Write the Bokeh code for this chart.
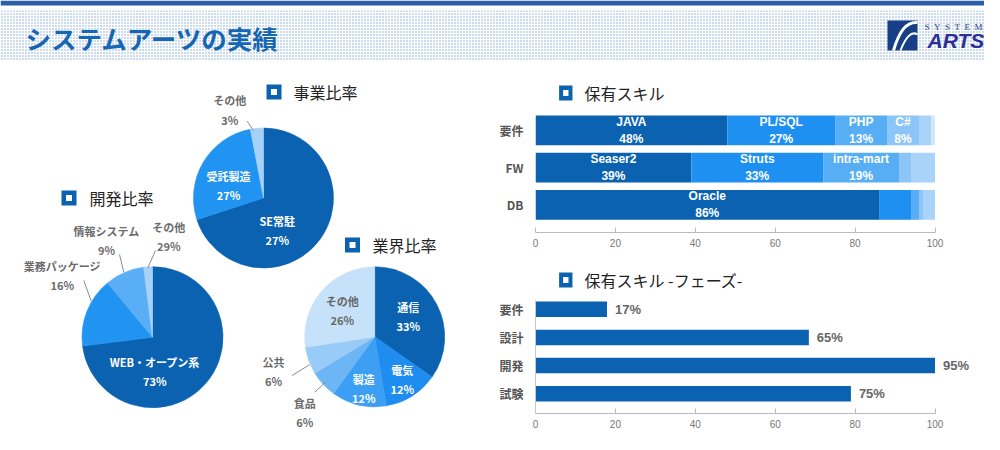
import numpy as np
from bokeh.plotting import figure
from bokeh.models import Range1d, FixedTicker
from bokeh.layouts import column, row
from bokeh.core.properties import value
from bokeh.embed import file_html
from bokeh.resources import INLINE

# ---------------- data ----------------
title_text = "システムアーツの実績"

biz_labels = ["SE常駐", "受託製造", "その他"]
biz_values = [70, 27, 3]
biz_pct_text = ["27%", "27%", "3%"]          # as printed on the chart

dev_labels = ["WEB・オープン系", "業務パッケージ", "情報システム", "その他"]
dev_values = [73, 16, 9, 2]
dev_pct_text = ["73%", "16%", "9%", "29%"]   # as printed on the chart

ind_labels = ["通信", "電気", "製造", "食品", "公共", "その他"]
ind_values = [33, 12, 12, 6, 6, 26]

skill_cats = ["要件", "FW", "DB"]
skill_s1 = [48, 39, 86]
skill_s2 = [27, 33, 8]
skill_s3 = [13, 19, 2]
skill_s4 = [8, 3, 1]
skill_s5 = [3, 6, 3]
skill_s6 = [1, 0, 0]
skill_names = [["JAVA", "PL/SQL", "PHP", "C#"], ["Seaser2", "Struts", "intra-mart"], ["Oracle"]]

phase_cats = ["要件", "設計", "開発", "試験"]
phase_values = [17, 65, 95, 75]

x_ticks = [0, 20, 40, 60, 80, 100]

# ---------------- style ----------------
JP = value("Noto Sans CJK JP")
LAT = value("Liberation Sans")
DARK = "#0A62B0"
BAND = "#2C5FA9"
GRAY = "#6B6B6B"
SEG_COLORS = ["#0A62B0", "#1E90F2", "#58AEF5", "#8CC5F7", "#A9D3F9", "#D3E8FB"]
BIZ_COLORS = ["#0A62B0", "#2194F2", "#A6D1F8"]
DEV_COLORS = ["#0A62B0", "#2194F2", "#5AAEF5", "#A6D1F8"]
IND_COLORS = ["#0A62B0", "#1E8DEF", "#3C9FF3", "#6DB6F5", "#98CBF7", "#C6E2FA"]


def Y(y):
    return 450 - y


def canvas(w, h, x0, y0):
    p = figure(width=w, height=h, x_range=Range1d(x0, x0 + w),
               y_range=Range1d(450 - (y0 + h), 450 - y0),
               output_backend="svg", toolbar_location=None,
               x_axis_location=None, y_axis_location=None,
               min_border=0, outline_line_color=None,
               background_fill_color="white", border_fill_color="white")
    p.xgrid.visible = False
    p.ygrid.visible = False
    return p


def section(p, cx, cy, text, tx):
    p.rect(x=[cx], y=[Y(cy)], width=15, height=15, fill_color=DARK, line_color=None)
    p.rect(x=[cx], y=[Y(cy)], width=6, height=6, fill_color="white", line_color=None)
    p.text(x=[tx], y=[Y(cy)], text=[text], text_font=JP, text_font_size="16px",
           text_color="#222222", text_baseline="middle", text_align="left")


def pie(p, cx, cy, r, values, colors):
    v = np.asarray(values, dtype=float)
    frac = v / v.sum()
    cum = np.concatenate([[0.0], np.cumsum(frac)])
    start = np.pi / 2 - 2 * np.pi * cum[1:]
    end = np.pi / 2 - 2 * np.pi * cum[:-1]
    p.wedge(x=cx, y=Y(cy), radius=r, start_angle=list(start), end_angle=list(end),
            fill_color=colors, line_color=colors, line_width=0.6)


def pie_labels(p, texts, pos, colors):
    for t, (x, y), c in zip(texts, pos, colors):
        p.text(x=[x], y=[Y(y)], text=[t], text_font=JP, text_font_size="11px",
               text_font_style="bold", text_color=c,
               text_align="center", text_baseline="middle", text_line_height=1.2)


W, G = "white", GRAY

# ---------------- header ----------------
head = canvas(984, 62, 0, 0)
head.quad(left=[0], right=[984], bottom=[Y(5)], top=[Y(0)], fill_color=BAND, line_color=None)
head.quad(left=[0], right=[984], bottom=[Y(60)], top=[Y(10)], fill_color="white",
          hatch_pattern="dot", hatch_color="#7FA6D8", hatch_scale=3, hatch_weight=1,
          line_color=None)
head.text(x=[25], y=[Y(37)], text=[title_text], text_font=JP, text_font_size="25.5px",
          text_font_style="bold", text_color="#1766B3", text_baseline="middle")
# logo
head.quad(left=[887], right=[917], top=[Y(20)], bottom=[Y(50)], fill_color="#163F88", line_color=None)
head.bezier(x0=[893], y0=[Y(50)], x1=[917], y1=[Y(22)], cx0=[899], cy0=[Y(30)],
            cx1=[906], cy1=[Y(21)], line_color="white", line_width=3)
head.bezier(x0=[900], y0=[Y(50)], x1=[917], y1=[Y(34)], cx0=[905], cy0=[Y(37)],
            cx1=[911], cy1=[Y(30)], line_color="white", line_width=2)
NB2 = "\u00a0\u00a0"
head.text(x=[982], y=[Y(26.5)], text=[NB2.join("SYSTEM")], text_font=value("Liberation Serif"),
          text_font_size="9px", text_color="#33428F", text_baseline="middle", text_align="right")
head.text(x=[927], y=[Y(40)], text=["ARTS"], text_font=LAT, text_font_style="bold italic",
          text_font_size="21px", text_color="#2C2F98", text_baseline="middle")

# ---------------- pies ----------------
left = canvas(480, 372, 0, 62)

section(left, 273.5, 91.5, "事業比率", 293)
pie(left, 263, 197.5, 70, biz_values, BIZ_COLORS)
left.segment(x0=[246.7], y0=[Y(120.7)], x1=[253], y1=[Y(130)], line_color="#8A8A8A", line_width=1)
pie_labels(left, [f"{a}\n{b}" for a, b in zip(biz_labels, biz_pct_text)],
           [(276.7, 230.4), (228, 185.3), (229.3, 109.5)], [W, W, G])

section(left, 68.5, 197.5, "開発比率", 89)
pie(left, 152, 336.7, 70.5, dev_values, DEV_COLORS)
left.segment(x0=[83.3, 119, 155], y0=[Y(280), Y(254), Y(250)],
             x1=[90.7, 123.3, 147.3], y1=[Y(300.7), Y(271.7), Y(267.3)],
             line_color="#8A8A8A", line_width=1)
pie_labels(left, [f"{a}\n{b}" for a, b in zip(dev_labels, dev_pct_text)],
           [(154.3, 371.3), (61.7, 274.7), (106, 240), (168.3, 235.7)], [W, G, G, G])

section(left, 352, 244.5, "業界比率", 372)
pie(left, 374.2, 336.3, 70, ind_values, IND_COLORS)
left.segment(x0=[314.3, 291.7], y0=[Y(391.7), Y(375)], x1=[325, 309.3], y1=[Y(381.7), Y(364)],
             line_color="#8A8A8A", line_width=1)
pie_labels(left, [f"{a}\n{b}%" for a, b in zip(ind_labels, ind_values)],
           [(407.7, 316.2), (401.7, 379), (363.3, 387.8), (304.3, 411.7), (273, 371), (341.7, 310)],
           [W, W, W, G, G, "#666666"])


# ---------------- bar charts ----------------
def bar_fig(h, yr, bottom, show_yline):
    p = figure(width=504, height=h, x_range=Range1d(0, 100 * 449 / 399.5), y_range=Range1d(*yr),
               output_backend="svg", toolbar_location=None, min_border_left=55,
               min_border_right=0, min_border_top=0, min_border_bottom=bottom,
               outline_line_color=None, background_fill_color="white",
               border_fill_color="white")
    p.xgrid.visible = False
    p.ygrid.visible = False
    xa = p.xaxis[0]
    xa.ticker = FixedTicker(ticks=x_ticks)
    xa.bounds = (0, 100)
    xa.axis_line_color = "#BBBBBB"
    xa.major_tick_line_color = "#BBBBBB"
    xa.major_tick_in = 5
    xa.major_tick_out = 0
    xa.minor_tick_in = 0
    xa.minor_tick_out = 0
    xa.major_label_text_font = "Liberation Sans"
    xa.major_label_text_font_size = "10px"
    xa.major_label_text_color = "#777777"
    xa.major_label_standoff = 6
    ya = p.yaxis[0]
    ya.axis_line_color = "#C8C8C8" if show_yline else None
    ya.major_tick_in = 0
    ya.major_tick_out = 0
    ya.minor_tick_in = 0
    ya.minor_tick_out = 0
    ya.major_label_text_font = "Noto Sans CJK JP"
    ya.major_label_text_font_style = "bold"
    ya.major_label_text_font_size = "12px"
    ya.major_label_text_color = "#555555"
    ya.major_label_standoff = 12
    return p


hdr1 = canvas(504, 48, 480, 62)
section(hdr1, 514, 92.5, "保有スキル", 535)

b1 = bar_fig(142, (-0.742, 2.536), 20, False)
n1 = len(skill_cats)
pos1 = [n1 - 1 - i for i in range(n1)]
b1.yaxis[0].ticker = FixedTicker(ticks=pos1)
b1.yaxis[0].major_label_overrides = {pos1[i]: skill_cats[i] for i in range(n1)}
series = [skill_s1, skill_s2, skill_s3, skill_s4, skill_s5, skill_s6]
cum = np.zeros(n1)
lx, ly, lt = [], [], []
for k, s in enumerate(series):
    s = np.asarray(s, dtype=float)
    b1.hbar(y=pos1, left=list(cum), right=list(cum + s), height=0.8,
            fill_color=SEG_COLORS[k], line_color=None)
    for i in range(n1):
        if k < len(skill_names[i]):
            lx.append(cum[i] + s[i] / 2)
            ly.append(pos1[i])
            lt.append(f"{skill_names[i][k]}\n{int(s[i])}%")
    cum = cum + s
b1.text(x=lx, y=ly, text=lt, text_font=LAT, text_font_size="12px", text_font_style="bold",
        text_color="white", text_align="center", text_baseline="middle", text_line_height=1.2)

hdr2 = canvas(504, 48, 480, 252)
section(hdr2, 514, 279.5, "保有スキル -フェーズ-", 535)

b2 = bar_fig(134, (-0.705, 3.313), 21, True)
n2 = len(phase_cats)
pos2 = [n2 - 1 - i for i in range(n2)]
b2.yaxis[0].ticker = FixedTicker(ticks=pos2)
b2.yaxis[0].major_label_overrides = {pos2[i]: phase_cats[i] for i in range(n2)}
pv = np.asarray(phase_values, dtype=float)
scaled = list(pv / pv.max() * 100)
b2.hbar(y=pos2, left=0, right=scaled, height=0.55, fill_color=DARK, line_color=None)
b2.text(x=scaled, y=pos2, text=[f"{v}%" for v in phase_values], x_offset=8,
        text_font=LAT, text_font_size="13px", text_font_style="bold", text_color="#666666",
        text_align="left", text_baseline="middle")

layout = column(head, row(left, column(hdr1, b1, hdr2, b2)))
open("out.html", "w").write(file_html(layout, INLINE))
